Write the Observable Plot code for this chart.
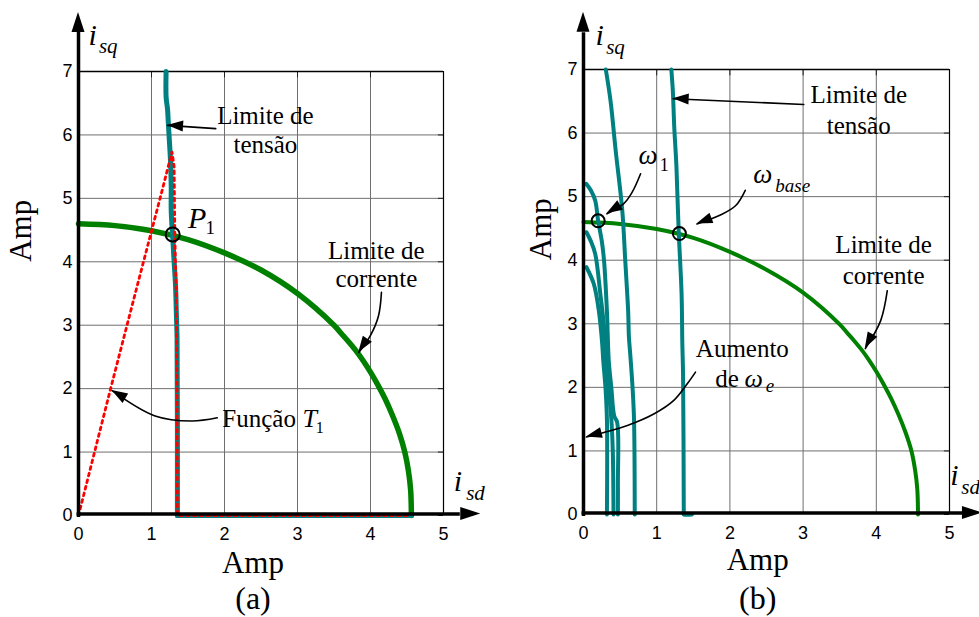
<!DOCTYPE html>
<html><head><meta charset="utf-8">
<script src="https://cdn.jsdelivr.net/npm/d3@7"></script>
<script src="https://cdn.jsdelivr.net/npm/@observablehq/plot@0.6"></script>
<style>
html,body{margin:0;padding:0;background:#fff;}
#row{display:flex;width:979px;height:617px;overflow:hidden;}
#row svg{display:block;flex:none;}
</style></head><body><div id="row"></div>
<script>
// ---------- data ----------
const xTicks = [0, 1, 2, 3, 4, 5];
const yTicks = [0, 1, 2, 3, 4, 5, 6, 7];
const xGrid = [1, 2, 3, 4];
const yGrid = [1, 2, 3, 4, 5, 6];

// panel (a)
const currentLimitA = [[0,4.6],[0.5,4.57],[1,4.49],[1.5,4.35],[2,4.14],[2.5,3.87],[3,3.5],[3.5,3.0],[3.6,2.87],[3.7,2.74],[3.8,2.6],[3.9,2.44],[4,2.26],[4.1,2.06],[4.2,1.84],[4.3,1.58],[4.4,1.28],[4.47,1.0],[4.52,0.7],[4.55,0.4],[4.56,0]];
const voltageLimitA = [[1.2,7],[1.2,6.6],[1.22,6.4],[1.23,6.2],[1.24,6.0],[1.26,5.6],[1.27,5.2],[1.27,4.8],[1.29,4.4],[1.31,4.0],[1.33,3.6],[1.34,3.2],[1.35,2.8],[1.355,0]];
const voltageBaseA = [[1.355,0],[4.56,0]];
const functionT1 = [[0,0],[0.44,2],[0.75,3.38],[0.99,4.44],[1.14,5.1],[1.24,5.55],[1.28,5.73],[1.31,5.5],[1.32,4.4],[1.34,3.39],[1.35,2],[1.355,0],[4.55,0]];
const pointP1 = [[1.29, 4.43]];

// panel (b)
const currentLimitB = [[0,4.6],[0.5,4.57],[1,4.49],[1.5,4.35],[2,4.13],[2.5,3.85],[3,3.49],[3.5,2.99],[3.6,2.86],[3.7,2.73],[3.8,2.59],[3.9,2.43],[4,2.25],[4.1,2.05],[4.2,1.83],[4.3,1.58],[4.4,1.29],[4.48,1.0],[4.53,0.7],[4.56,0.4],[4.57,0]];
const voltageB1 = [[1.2,7],[1.22,6.67],[1.24,6.09],[1.27,5.46],[1.3,4.47],[1.34,3.47],[1.35,2.7],[1.36,2.2],[1.37,0.02],[1.37,0],[1.48,0]];
const voltageB2 = [[0.305,7],[0.37,6.5],[0.44,5.72],[0.53,4.78],[0.57,4.0],[0.61,3.2],[0.62,2.8],[0.64,2.5],[0.67,2.0],[0.69,1.5],[0.7,0]];
const voltageB3 = [[0.04,5.2],[0.1,5.1],[0.16,4.94],[0.2,4.62],[0.25,4.3],[0.28,4.0],[0.32,3.2],[0.345,2.42],[0.38,2.0],[0.42,1.55],[0.46,1.45],[0.47,0.5],[0.47,0]];
const voltageB4 = [[0.04,4.44],[0.1,4.3],[0.16,4.1],[0.23,3.47],[0.28,2.95],[0.3,2.42],[0.34,2.0],[0.38,1.5],[0.4,1.0],[0.41,0]];
const voltageB5 = [[0.04,3.89],[0.14,3.63],[0.21,3.2],[0.255,2.69],[0.27,2.42],[0.3,2.0],[0.32,1.5],[0.32,0]];
const pointsB = [[0.2, 4.62], [1.31, 4.42]];

// ---------- annotations (data units) ----------
const textA = [
  {t: "Limite de", x: 2.56, y: 6.17}, {t: "tensão", x: 2.56, y: 5.71},
  {t: "Limite de", x: 4.08, y: 4.05}, {t: "corrente", x: 4.08, y: 3.60}
];
const arrowsA = [
  [[1.88, 6.10], [1.22, 6.15]],
  [[4.15, 3.52], [4.11, 3.15], [4.0, 2.84], [3.84, 2.57]],
  [[1.90, 1.54], [1.55, 1.49], [1.05, 1.57], [0.46, 1.97]]
];
const textB = [
  {t: "Limite de", x: 3.76, y: 6.47}, {t: "tensão", x: 3.76, y: 5.99},
  {t: "Limite de", x: 4.10, y: 4.11}, {t: "corrente", x: 4.10, y: 3.63},
  {t: "Aumento", x: 2.17, y: 2.47}
];
const arrowsB = [
  [[3.01, 6.45], [1.225, 6.54]],
  [[0.78, 5.36], [0.665, 5.07], [0.55, 4.89], [0.32, 4.73]],
  [[2.21, 5.10], [2.08, 4.86], [1.87, 4.71], [1.55, 4.57]],
  [[4.15, 3.52], [4.06, 3.05], [3.85, 2.61]],
  [[1.53, 2.24], [1.42, 2.06], [1.23, 1.79], [0.96, 1.58], [0.60, 1.40], [0.28, 1.29], [0.04, 1.22]]
];

const SERIF = "Liberation Serif, Times New Roman, serif";
const SANS = "Liberation Sans, Arial, sans-serif";
const fmt = d => String(d);

function pts(arr) { return arr.map(([x, y]) => ({x, y})); }

// filled triangular arrowheads, oriented along last segment (pixel space)
function heads(arrows, len, wid) {
  return (index, scales) => {
    const g = d3.create("svg:g");
    for (const a of arrows) {
      const n = a.length;
      const tx = scales.x(a[n-1][0]), ty = scales.y(a[n-1][1]);
      const fx = scales.x(a[n-2][0]), fy = scales.y(a[n-2][1]);
      let dx = tx - fx, dy = ty - fy; const L = Math.hypot(dx, dy) || 1; dx /= L; dy /= L;
      const bx = tx - dx * len, by = ty - dy * len;
      g.append("path")
        .attr("d", `M${tx},${ty}L${bx - dy * wid / 2},${by + dx * wid / 2}L${bx + dy * wid / 2},${by - dx * wid / 2}Z`)
        .attr("fill", "black");
    }
    return g.node();
  };
}

function frameMarks() {
  return [
    Plot.ruleX(xGrid, {stroke: "#6f6f6f", strokeWidth: 1}),
    Plot.ruleY(yGrid, {stroke: "#6f6f6f", strokeWidth: 1}),
    Plot.ruleY(yTicks, {x1: 4.93, x2: 5, stroke: "#222", strokeWidth: 1}),
    Plot.ruleX(xTicks, {y1: 6.9, y2: 7, stroke: "#222", strokeWidth: 1}),
    Plot.ruleY([7], {stroke: "black", strokeWidth: 1.6}),
    Plot.ruleX([5], {stroke: "black", strokeWidth: 1.2})
  ];
}
function axisMarks(vTop, vTip, hEnd, hTip) {
  return [
    Plot.ruleX([0], {y1: -0.03, y2: vTop, stroke: "black", strokeWidth: 3.5}),
    Plot.ruleY([0], {x1: -0.02, x2: hEnd, stroke: "black", strokeWidth: 3.5, dy: -1.5}),
    heads([[[0, vTop - 0.3], [0, vTip]]], 20, 13),
    heads([[[hEnd - 0.3, 0.024], [hTip, 0.024]]], 20, 13),
    Plot.axisX({ticks: xTicks, tickFormat: fmt, tickSize: 0, tickPadding: 12, label: null, fontSize: 18, fontFamily: SANS}),
    Plot.axisY({ticks: yTicks, tickFormat: fmt, tickSize: 0, tickPadding: 6, label: null, fontSize: 18, fontFamily: SANS})
  ];
}
function shafts(arrows) {
  return arrows.map(a => Plot.line(pts(a), {x: "x", y: "y", stroke: "black", strokeWidth: 1.6, curve: "catmull-rom"}));
}
function label(t, x, y, size, italic, extra = {}) {
  return Plot.text([t], {x, y, text: d => d, textAnchor: "start", lineAnchor: "bottom", fontSize: size,
    fontStyle: italic ? "italic" : "normal", fontFamily: SERIF, ...extra});
}

const plotA = Plot.plot({
  width: 490, height: 617,
  marginLeft: 78, marginRight: 47, marginTop: 71, marginBottom: 102,
  x: {domain: [0, 5]}, y: {domain: [0, 7]},
  style: {background: "white", fontFamily: SANS, fontSize: "18px", overflow: "visible"},
  marks: [
    ...frameMarks(),
    Plot.line(pts(currentLimitA), {x: "x", y: "y", stroke: "#008000", strokeWidth: 5.5, curve: "catmull-rom"}),
    Plot.line(pts(voltageLimitA), {x: "x", y: "y", stroke: "#008080", strokeWidth: 5, curve: "catmull-rom"}),
    Plot.line(pts(voltageBaseA), {x: "x", y: "y", stroke: "#008080", strokeWidth: 5}),
    Plot.line(pts(functionT1), {x: "x", y: "y", stroke: "#ff0000", strokeWidth: 2.8, strokeDasharray: "2.8,4"}),
    Plot.dot(pts(pointP1), {x: "x", y: "y", r: 7, stroke: "black", strokeWidth: 2, fill: "none"}),
    ...axisMarks(7.62, 7.93, 5.23, 5.51),
    ...shafts(arrowsA),
    heads(arrowsA, 16, 11),
    Plot.text(textA, {x: "x", y: "y", text: "t", lineAnchor: "bottom", fontSize: 25, fontFamily: SERIF}),
    label("Função", 1.97, 1.40, 25, false),
    label("T", 3.07, 1.40, 26, true),
    label("1", 3.25, 1.30, 16, false),
    label("P", 1.50, 4.54, 30, true),
    label("1", 1.74, 4.44, 19, false),
    label("i", 0.137, 7.41, 30, true),
    label("sq", 0.28, 7.29, 21, true),
    label("i", 5.14, 0.39, 30, true),
    label("sd", 5.31, 0.24, 21, true),
    Plot.text(["Amp"], {x: 2.39, y: 0, dy: 57, text: d => d, lineAnchor: "bottom", fontSize: 31, fontFamily: SERIF}),
    Plot.text(["(a)"], {x: 2.39, y: 0, dy: 93, text: d => d, lineAnchor: "bottom", fontSize: 32, fontFamily: SERIF}),
    Plot.text(["Amp"], {frameAnchor: "left", y: 4.0, dx: -57, rotate: -90, text: d => d, fontSize: 31, fontFamily: SERIF})
  ]
});

const voltageBTable = [voltageB1, voltageB2, voltageB3, voltageB4, voltageB5]
  .flatMap((s, k) => s.map(([x, y]) => ({x, y, k})));

const plotB = Plot.plot({
  width: 489, height: 617,
  marginLeft: 93, marginRight: 30, marginTop: 69, marginBottom: 103,
  x: {domain: [0, 5]}, y: {domain: [0, 7]},
  style: {background: "white", fontFamily: SANS, fontSize: "18px", overflow: "visible"},
  marks: [
    ...frameMarks(),
    Plot.line(pts(currentLimitB), {x: "x", y: "y", stroke: "#008000", strokeWidth: 4, curve: "catmull-rom"}),
    Plot.line(voltageBTable, {x: "x", y: "y", z: "k", stroke: "#008080", strokeWidth: 4, curve: "catmull-rom"}),
    Plot.dot(pts(pointsB), {x: "x", y: "y", r: 6.5, stroke: "black", strokeWidth: 2, fill: "none"}),
    ...axisMarks(7.58, 7.9, 5.22, 5.45),
    ...shafts(arrowsB),
    heads(arrowsB, 16, 11),
    Plot.text(textB, {x: "x", y: "y", text: "t", lineAnchor: "bottom", fontSize: 25, fontFamily: SERIF}),
    label("de", 1.80, 2.0, 25, false),
    label("ω", 2.2, 2.0, 26, true),
    label("e", 2.49, 1.93, 19, true),
    label("ω", 0.75, 5.51, 27, true),
    label("1", 1.04, 5.41, 18, false),
    label("ω", 2.32, 5.21, 27, true),
    label("base", 2.62, 5.07, 19, true),
    label("i", 0.164, 7.38, 30, true),
    label("sq", 0.31, 7.25, 21, true),
    label("i", 5.01, 0.47, 30, true),
    label("sd", 5.16, 0.33, 21, true),
    Plot.text(["Amp"], {x: 2.38, y: 0, dy: 55, text: d => d, lineAnchor: "bottom", fontSize: 31, fontFamily: SERIF}),
    Plot.text(["(b)"], {x: 2.38, y: 0, dy: 94, text: d => d, lineAnchor: "bottom", fontSize: 32, fontFamily: SERIF}),
    Plot.text(["Amp"], {frameAnchor: "left", y: 4.0, dx: -42, rotate: -90, text: d => d, fontSize: 31, fontFamily: SERIF})
  ]
});

document.getElementById("row").append(plotA, plotB);
</script></body></html>
